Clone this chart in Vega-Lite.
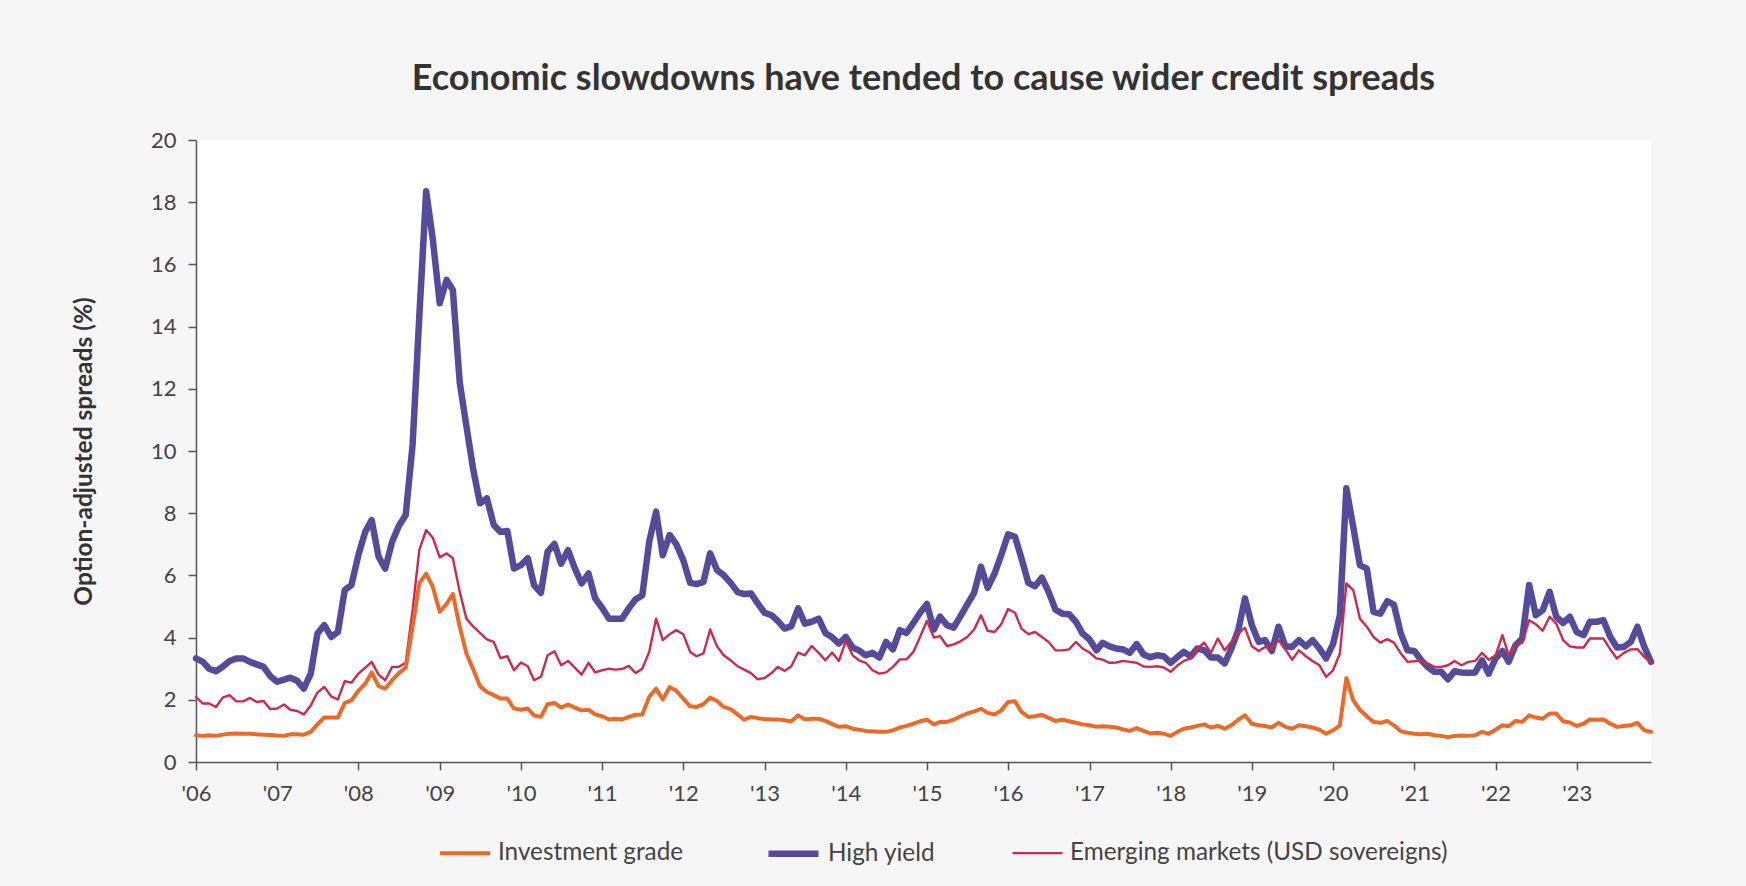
{
"$schema": "https://vega.github.io/schema/vega-lite/v6.json",
"width": 1455, "height": 622,
"autosize": {"type": "none"},
"padding": {"left": 196, "top": 140, "right": 95, "bottom": 124},
"background": "#f6f6f6",
"title": {"text": "Economic slowdowns have tended to cause wider credit spreads", "font": "Lato", "fontSize": 36, "fontWeight": "bold", "color": "#333333", "anchor": "middle", "offset": 31},
"data": {"values": [
{"d":"2006-01-01","ig":0.86,"hy":3.33,"em":2.09},{"d":"2006-02-01","ig":0.84,"hy":3.22,"em":1.88},{"d":"2006-03-01","ig":0.86,"hy":3.0,"em":1.88},{"d":"2006-04-01","ig":0.84,"hy":2.92,"em":1.77},{"d":"2006-05-01","ig":0.88,"hy":3.06,"em":2.07},{"d":"2006-06-01","ig":0.91,"hy":3.25,"em":2.15},{"d":"2006-07-01","ig":0.92,"hy":3.33,"em":1.95},{"d":"2006-08-01","ig":0.91,"hy":3.33,"em":1.95},{"d":"2006-09-01","ig":0.91,"hy":3.22,"em":2.06},{"d":"2006-10-01","ig":0.89,"hy":3.14,"em":1.93},{"d":"2006-11-01","ig":0.88,"hy":3.06,"em":1.96},{"d":"2006-12-01","ig":0.87,"hy":2.76,"em":1.7},
{"d":"2007-01-01","ig":0.85,"hy":2.58,"em":1.72},{"d":"2007-02-01","ig":0.84,"hy":2.65,"em":1.85},{"d":"2007-03-01","ig":0.89,"hy":2.71,"em":1.68},{"d":"2007-04-01","ig":0.89,"hy":2.61,"em":1.64},{"d":"2007-05-01","ig":0.88,"hy":2.36,"em":1.53},{"d":"2007-06-01","ig":0.97,"hy":2.84,"em":1.82},{"d":"2007-07-01","ig":1.21,"hy":4.13,"em":2.23},{"d":"2007-08-01","ig":1.43,"hy":4.4,"em":2.41},{"d":"2007-09-01","ig":1.43,"hy":4.02,"em":2.11},{"d":"2007-10-01","ig":1.43,"hy":4.18,"em":2.01},{"d":"2007-11-01","ig":1.9,"hy":5.53,"em":2.6},{"d":"2007-12-01","ig":1.98,"hy":5.69,"em":2.55},
{"d":"2008-01-01","ig":2.29,"hy":6.65,"em":2.84},{"d":"2008-02-01","ig":2.52,"hy":7.4,"em":3.03},{"d":"2008-03-01","ig":2.88,"hy":7.78,"em":3.22},{"d":"2008-04-01","ig":2.44,"hy":6.6,"em":2.81},{"d":"2008-05-01","ig":2.36,"hy":6.22,"em":2.63},{"d":"2008-06-01","ig":2.63,"hy":7.08,"em":3.06},{"d":"2008-07-01","ig":2.86,"hy":7.59,"em":3.06},{"d":"2008-08-01","ig":3.03,"hy":7.94,"em":3.19},{"d":"2008-09-01","ig":4.35,"hy":10.2,"em":4.88},{"d":"2008-10-01","ig":5.74,"hy":14.3,"em":6.81},{"d":"2008-11-01","ig":6.06,"hy":18.35,"em":7.46},{"d":"2008-12-01","ig":5.63,"hy":16.8,"em":7.21},
{"d":"2009-01-01","ig":4.83,"hy":14.75,"em":6.58},{"d":"2009-02-01","ig":5.08,"hy":15.5,"em":6.71},{"d":"2009-03-01","ig":5.4,"hy":15.18,"em":6.55},{"d":"2009-04-01","ig":4.35,"hy":12.2,"em":5.47},{"d":"2009-05-01","ig":3.49,"hy":10.8,"em":4.61},{"d":"2009-06-01","ig":2.97,"hy":9.39,"em":4.35},{"d":"2009-07-01","ig":2.44,"hy":8.32,"em":4.15},{"d":"2009-08-01","ig":2.25,"hy":8.48,"em":3.94},{"d":"2009-09-01","ig":2.15,"hy":7.62,"em":3.86},{"d":"2009-10-01","ig":2.04,"hy":7.4,"em":3.34},{"d":"2009-11-01","ig":2.04,"hy":7.43,"em":3.4},{"d":"2009-12-01","ig":1.72,"hy":6.22,"em":2.95},
{"d":"2010-01-01","ig":1.68,"hy":6.33,"em":3.2},{"d":"2010-02-01","ig":1.72,"hy":6.55,"em":3.08},{"d":"2010-03-01","ig":1.5,"hy":5.69,"em":2.63},{"d":"2010-04-01","ig":1.45,"hy":5.44,"em":2.74},{"d":"2010-05-01","ig":1.86,"hy":6.76,"em":3.43},{"d":"2010-06-01","ig":1.9,"hy":7.01,"em":3.56},{"d":"2010-07-01","ig":1.75,"hy":6.38,"em":3.11},{"d":"2010-08-01","ig":1.85,"hy":6.81,"em":3.25},{"d":"2010-09-01","ig":1.75,"hy":6.22,"em":3.03},{"d":"2010-10-01","ig":1.66,"hy":5.74,"em":2.81},{"d":"2010-11-01","ig":1.68,"hy":6.06,"em":3.19},{"d":"2010-12-01","ig":1.53,"hy":5.26,"em":2.88},
{"d":"2011-01-01","ig":1.47,"hy":4.96,"em":2.95},{"d":"2011-02-01","ig":1.37,"hy":4.61,"em":3.0},{"d":"2011-03-01","ig":1.39,"hy":4.61,"em":2.97},{"d":"2011-04-01","ig":1.37,"hy":4.61,"em":2.99},{"d":"2011-05-01","ig":1.45,"hy":4.94,"em":3.09},{"d":"2011-06-01","ig":1.52,"hy":5.23,"em":2.86},{"d":"2011-07-01","ig":1.53,"hy":5.36,"em":3.0},{"d":"2011-08-01","ig":2.09,"hy":7.08,"em":3.54},{"d":"2011-09-01","ig":2.36,"hy":8.05,"em":4.61},{"d":"2011-10-01","ig":2.01,"hy":6.65,"em":3.92},{"d":"2011-11-01","ig":2.41,"hy":7.3,"em":4.11},{"d":"2011-12-01","ig":2.29,"hy":7.0,"em":4.24},
{"d":"2012-01-01","ig":2.04,"hy":6.49,"em":4.11},{"d":"2012-02-01","ig":1.79,"hy":5.76,"em":3.54},{"d":"2012-03-01","ig":1.77,"hy":5.72,"em":3.4},{"d":"2012-04-01","ig":1.86,"hy":5.79,"em":3.49},{"d":"2012-05-01","ig":2.07,"hy":6.71,"em":4.26},{"d":"2012-06-01","ig":1.96,"hy":6.17,"em":3.72},{"d":"2012-07-01","ig":1.77,"hy":6.01,"em":3.43},{"d":"2012-08-01","ig":1.7,"hy":5.76,"em":3.27},{"d":"2012-09-01","ig":1.53,"hy":5.47,"em":3.08},{"d":"2012-10-01","ig":1.36,"hy":5.4,"em":2.97},{"d":"2012-11-01","ig":1.45,"hy":5.42,"em":2.86},{"d":"2012-12-01","ig":1.41,"hy":5.1,"em":2.66},
{"d":"2013-01-01","ig":1.38,"hy":4.8,"em":2.7},{"d":"2013-02-01","ig":1.37,"hy":4.72,"em":2.86},{"d":"2013-03-01","ig":1.37,"hy":4.54,"em":3.06},{"d":"2013-04-01","ig":1.34,"hy":4.29,"em":2.93},{"d":"2013-05-01","ig":1.31,"hy":4.37,"em":3.08},{"d":"2013-06-01","ig":1.5,"hy":4.94,"em":3.52},{"d":"2013-07-01","ig":1.37,"hy":4.45,"em":3.43},{"d":"2013-08-01","ig":1.39,"hy":4.51,"em":3.73},{"d":"2013-09-01","ig":1.39,"hy":4.61,"em":3.51},{"d":"2013-10-01","ig":1.32,"hy":4.15,"em":3.27},{"d":"2013-11-01","ig":1.22,"hy":4.01,"em":3.52},{"d":"2013-12-01","ig":1.13,"hy":3.81,"em":3.25},
{"d":"2014-01-01","ig":1.15,"hy":4.02,"em":3.89},{"d":"2014-02-01","ig":1.07,"hy":3.68,"em":3.43},{"d":"2014-03-01","ig":1.04,"hy":3.59,"em":3.27},{"d":"2014-04-01","ig":1.0,"hy":3.43,"em":3.19},{"d":"2014-05-01","ig":0.99,"hy":3.51,"em":2.95},{"d":"2014-06-01","ig":0.97,"hy":3.36,"em":2.84},{"d":"2014-07-01","ig":0.97,"hy":3.86,"em":2.88},{"d":"2014-08-01","ig":1.02,"hy":3.62,"em":3.06},{"d":"2014-09-01","ig":1.11,"hy":4.24,"em":3.3},{"d":"2014-10-01","ig":1.16,"hy":4.15,"em":3.3},{"d":"2014-11-01","ig":1.23,"hy":4.47,"em":3.54},{"d":"2014-12-01","ig":1.31,"hy":4.8,"em":4.02},
{"d":"2015-01-01","ig":1.36,"hy":5.08,"em":4.54},{"d":"2015-02-01","ig":1.21,"hy":4.26,"em":4.0},{"d":"2015-03-01","ig":1.29,"hy":4.67,"em":4.05},{"d":"2015-04-01","ig":1.29,"hy":4.4,"em":3.73},{"d":"2015-05-01","ig":1.36,"hy":4.32,"em":3.78},{"d":"2015-06-01","ig":1.47,"hy":4.69,"em":3.88},{"d":"2015-07-01","ig":1.56,"hy":5.06,"em":4.02},{"d":"2015-08-01","ig":1.63,"hy":5.44,"em":4.26},{"d":"2015-09-01","ig":1.71,"hy":6.28,"em":4.72},{"d":"2015-10-01","ig":1.58,"hy":5.6,"em":4.22},{"d":"2015-11-01","ig":1.53,"hy":6.06,"em":4.18},{"d":"2015-12-01","ig":1.66,"hy":6.65,"em":4.43},
{"d":"2016-01-01","ig":1.93,"hy":7.32,"em":4.92},{"d":"2016-02-01","ig":1.95,"hy":7.24,"em":4.8},{"d":"2016-03-01","ig":1.61,"hy":6.55,"em":4.29},{"d":"2016-04-01","ig":1.45,"hy":5.76,"em":4.11},{"d":"2016-05-01","ig":1.47,"hy":5.65,"em":4.18},{"d":"2016-06-01","ig":1.52,"hy":5.93,"em":4.02},{"d":"2016-07-01","ig":1.42,"hy":5.47,"em":3.86},{"d":"2016-08-01","ig":1.32,"hy":4.9,"em":3.59},{"d":"2016-09-01","ig":1.36,"hy":4.77,"em":3.59},{"d":"2016-10-01","ig":1.31,"hy":4.75,"em":3.62},{"d":"2016-11-01","ig":1.26,"hy":4.51,"em":3.86},{"d":"2016-12-01","ig":1.21,"hy":4.13,"em":3.65},
{"d":"2017-01-01","ig":1.18,"hy":3.94,"em":3.52},{"d":"2017-02-01","ig":1.13,"hy":3.59,"em":3.33},{"d":"2017-03-01","ig":1.15,"hy":3.83,"em":3.29},{"d":"2017-04-01","ig":1.13,"hy":3.72,"em":3.19},{"d":"2017-05-01","ig":1.11,"hy":3.65,"em":3.2},{"d":"2017-06-01","ig":1.05,"hy":3.62,"em":3.25},{"d":"2017-07-01","ig":1.0,"hy":3.51,"em":3.22},{"d":"2017-08-01","ig":1.09,"hy":3.79,"em":3.19},{"d":"2017-09-01","ig":1.0,"hy":3.46,"em":3.07},{"d":"2017-10-01","ig":0.92,"hy":3.37,"em":3.06},{"d":"2017-11-01","ig":0.94,"hy":3.43,"em":3.08},{"d":"2017-12-01","ig":0.91,"hy":3.4,"em":3.04},
{"d":"2018-01-01","ig":0.84,"hy":3.19,"em":2.9},{"d":"2018-02-01","ig":0.97,"hy":3.38,"em":3.11},{"d":"2018-03-01","ig":1.07,"hy":3.54,"em":3.25},{"d":"2018-04-01","ig":1.11,"hy":3.4,"em":3.33},{"d":"2018-05-01","ig":1.16,"hy":3.65,"em":3.65},{"d":"2018-06-01","ig":1.21,"hy":3.59,"em":3.84},{"d":"2018-07-01","ig":1.11,"hy":3.36,"em":3.51},{"d":"2018-08-01","ig":1.16,"hy":3.36,"em":3.97},{"d":"2018-09-01","ig":1.07,"hy":3.17,"em":3.59},{"d":"2018-10-01","ig":1.18,"hy":3.65,"em":3.86},{"d":"2018-11-01","ig":1.36,"hy":4.24,"em":4.13},{"d":"2018-12-01","ig":1.5,"hy":5.26,"em":4.32},
{"d":"2019-01-01","ig":1.23,"hy":4.4,"em":3.72},{"d":"2019-02-01","ig":1.18,"hy":3.86,"em":3.57},{"d":"2019-03-01","ig":1.16,"hy":3.92,"em":3.7},{"d":"2019-04-01","ig":1.11,"hy":3.57,"em":3.65},{"d":"2019-05-01","ig":1.26,"hy":4.35,"em":3.92},{"d":"2019-06-01","ig":1.13,"hy":3.72,"em":3.62},{"d":"2019-07-01","ig":1.07,"hy":3.7,"em":3.29},{"d":"2019-08-01","ig":1.18,"hy":3.92,"em":3.59},{"d":"2019-09-01","ig":1.15,"hy":3.72,"em":3.4},{"d":"2019-10-01","ig":1.11,"hy":3.92,"em":3.25},{"d":"2019-11-01","ig":1.04,"hy":3.65,"em":3.11},{"d":"2019-12-01","ig":0.91,"hy":3.33,"em":2.74},
{"d":"2020-01-01","ig":1.02,"hy":3.79,"em":2.95},{"d":"2020-02-01","ig":1.18,"hy":4.72,"em":3.49},{"d":"2020-03-01","ig":2.7,"hy":8.8,"em":5.74},{"d":"2020-04-01","ig":1.98,"hy":7.56,"em":5.53},{"d":"2020-05-01","ig":1.68,"hy":6.33,"em":4.61},{"d":"2020-06-01","ig":1.47,"hy":6.22,"em":4.35},{"d":"2020-07-01","ig":1.29,"hy":4.83,"em":4.02},{"d":"2020-08-01","ig":1.26,"hy":4.77,"em":3.84},{"d":"2020-09-01","ig":1.32,"hy":5.17,"em":3.95},{"d":"2020-10-01","ig":1.18,"hy":5.06,"em":3.84},{"d":"2020-11-01","ig":0.99,"hy":4.13,"em":3.49},{"d":"2020-12-01","ig":0.94,"hy":3.59,"em":3.22},
{"d":"2021-01-01","ig":0.91,"hy":3.57,"em":3.24},{"d":"2021-02-01","ig":0.89,"hy":3.27,"em":3.25},{"d":"2021-03-01","ig":0.91,"hy":3.06,"em":3.17},{"d":"2021-04-01","ig":0.86,"hy":2.9,"em":3.06},{"d":"2021-05-01","ig":0.84,"hy":2.9,"em":3.06},{"d":"2021-06-01","ig":0.8,"hy":2.66,"em":3.11},{"d":"2021-07-01","ig":0.84,"hy":2.92,"em":3.25},{"d":"2021-08-01","ig":0.85,"hy":2.88,"em":3.11},{"d":"2021-09-01","ig":0.84,"hy":2.87,"em":3.22},{"d":"2021-10-01","ig":0.86,"hy":2.88,"em":3.25},{"d":"2021-11-01","ig":0.97,"hy":3.27,"em":3.51},{"d":"2021-12-01","ig":0.91,"hy":2.84,"em":3.29},
{"d":"2022-01-01","ig":1.04,"hy":3.33,"em":3.43},{"d":"2022-02-01","ig":1.18,"hy":3.57,"em":4.08},{"d":"2022-03-01","ig":1.15,"hy":3.22,"em":3.43},{"d":"2022-04-01","ig":1.32,"hy":3.76,"em":3.79},{"d":"2022-05-01","ig":1.29,"hy":3.97,"em":3.83},{"d":"2022-06-01","ig":1.5,"hy":5.69,"em":4.56},{"d":"2022-07-01","ig":1.43,"hy":4.72,"em":4.43},{"d":"2022-08-01","ig":1.39,"hy":4.88,"em":4.22},{"d":"2022-09-01","ig":1.56,"hy":5.47,"em":4.67},{"d":"2022-10-01","ig":1.56,"hy":4.67,"em":4.45},{"d":"2022-11-01","ig":1.31,"hy":4.47,"em":3.92},{"d":"2022-12-01","ig":1.27,"hy":4.67,"em":3.72},
{"d":"2023-01-01","ig":1.16,"hy":4.18,"em":3.68},{"d":"2023-02-01","ig":1.23,"hy":4.08,"em":3.68},{"d":"2023-03-01","ig":1.37,"hy":4.51,"em":3.97},{"d":"2023-04-01","ig":1.36,"hy":4.51,"em":3.97},{"d":"2023-05-01","ig":1.37,"hy":4.56,"em":3.97},{"d":"2023-06-01","ig":1.23,"hy":4.02,"em":3.62},{"d":"2023-07-01","ig":1.13,"hy":3.68,"em":3.33},{"d":"2023-08-01","ig":1.16,"hy":3.7,"em":3.51},{"d":"2023-09-01","ig":1.18,"hy":3.86,"em":3.62},{"d":"2023-10-01","ig":1.26,"hy":4.35,"em":3.63},{"d":"2023-11-01","ig":1.02,"hy":3.7,"em":3.38},{"d":"2023-12-01","ig":0.97,"hy":3.22,"em":3.19}
]},
"transform": [{"fold": ["hy", "em", "ig"], "as": ["series", "value"]}],
"mark": {"type": "line", "strokeJoin": "round", "strokeCap": "round"},
"encoding": {
  "x": {"field": "d", "type": "temporal",
        "scale": {"type": "utc", "domain": [{"year": 2006, "month": 1, "date": 1, "utc": true}, {"year": 2023, "month": 12, "date": 1, "utc": true}]},
        "axis": {"title": null, "format": "'%y", "tickCount": {"interval": "year", "step": 1}, "labelFont": "Lato", "labelFontSize": 22, "labelColor": "#444444", "labelPadding": 13, "tickSize": 8, "tickColor": "#555555", "tickWidth": 1.5, "domainColor": "#555555", "domainWidth": 1.5, "grid": false, "labelFlush": false, "labelOverlap": false}},
  "y": {"field": "value", "type": "quantitative",
        "scale": {"domain": [0, 20], "nice": false},
        "axis": {"title": "Option-adjusted spreads (%)", "values": [0,2,4,6,8,10,12,14,16,18,20], "labelFont": "Lato", "labelFontSize": 22, "labelColor": "#444444", "labelPadding": 12, "tickSize": 8, "tickColor": "#555555", "tickWidth": 1.5, "domainColor": "#555555", "domainWidth": 1.5, "grid": false, "titleFont": "Lato", "titleFontSize": 24.5, "titleFontWeight": "bold", "titleColor": "#333333", "titlePadding": 54}},
  "color": {"field": "series", "type": "nominal",
        "scale": {"domain": ["ig", "hy", "em"], "range": ["#EB6A28", "#564A9A", "#CC2A4F"]},
        "legend": {"title": null, "labelExpr": "datum.label == 'ig' ? 'Investment grade' : datum.label == 'hy' ? 'High yield' : 'Emerging markets (USD sovereigns)'"}},
  "strokeWidth": {"field": "series", "type": "nominal",
        "scale": {"type": "ordinal", "domain": ["ig", "hy", "em"], "range": [4, 6.5, 2.4]},
        "legend": {"title": null, "labelExpr": "datum.label == 'ig' ? 'Investment grade' : datum.label == 'hy' ? 'High yield' : 'Emerging markets (USD sovereigns)'"}}
},
"config": {
  "view": {"fill": "white", "stroke": null},
  "legend": {"orient": "none", "legendX": 242, "legendY": 685, "direction": "horizontal", "symbolType": "stroke", "symbolSize": 2500, "labelFont": "Lato", "labelFontSize": 24.3, "labelColor": "#444444", "columnPadding": 71, "labelOffset": 6, "labelLimit": 500}
}
}
